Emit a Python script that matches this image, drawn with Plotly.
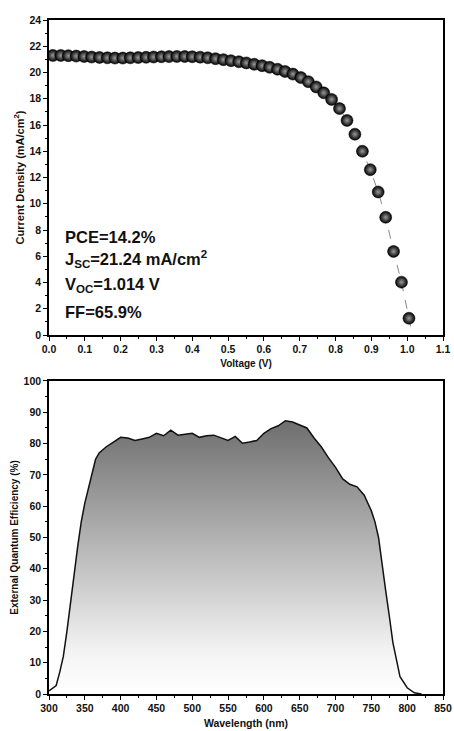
import plotly.graph_objects as go

# J-V data
voltage = [0.011, 0.033, 0.054, 0.076, 0.098, 0.119, 0.141, 0.163, 0.184, 0.206,
           0.227, 0.249, 0.271, 0.292, 0.314, 0.335, 0.357, 0.379, 0.400, 0.422,
           0.443, 0.465, 0.487, 0.508, 0.530, 0.551, 0.573, 0.595, 0.616, 0.638,
           0.659, 0.681, 0.703, 0.724, 0.746, 0.767, 0.789, 0.811, 0.832, 0.854,
           0.875, 0.897, 0.919, 0.940, 0.962, 0.984, 1.005]
current = [21.30, 21.30, 21.28, 21.25, 21.22, 21.18, 21.15, 21.12, 21.10, 21.10,
           21.12, 21.14, 21.16, 21.18, 21.20, 21.21, 21.22, 21.22, 21.20, 21.17,
           21.12, 21.05, 20.98, 20.90, 20.82, 20.73, 20.63, 20.52, 20.40, 20.25,
           20.08, 19.88, 19.62, 19.30, 18.90, 18.45, 17.95, 17.25, 16.35, 15.30,
           14.00, 12.60, 10.90, 8.97, 6.37, 4.03, 1.28]
voc = 1.014

# EQE data
wavelength = [300, 310, 315, 320, 325, 330, 335, 340, 345, 350, 355, 360, 365, 370,
              380, 390, 400, 410, 420, 430, 440, 450, 460, 470, 480, 490, 500,
              510, 520, 530, 540, 550, 560, 570, 580, 590, 600, 610, 620, 630,
              640, 650, 660, 670, 680, 690, 700, 710, 720, 730, 740, 750, 755,
              760, 765, 770, 775, 780, 790, 800, 810, 820]
eqe = [1.0, 2.7, 7.0, 12.0, 20.0, 30.0, 38.0, 47.0, 55.0, 61.0, 66.0, 70.0, 75.0, 77.0,
       79.0, 80.5, 82.0, 81.8, 81.0, 81.5, 82.0, 83.3, 82.5, 84.3, 82.7, 83.0, 83.3,
       82.0, 82.5, 82.7, 81.8, 81.0, 82.3, 80.1, 80.5, 81.0, 83.3, 84.8, 85.7, 87.3,
       86.9, 86.0, 85.0, 81.8, 79.0, 75.5, 72.4, 68.7, 67.0, 66.2, 63.5, 58.5, 55.0,
       50.0, 41.0, 33.0, 25.0, 16.5, 5.5, 2.0, 0.4, 0.0]

FONT = "Liberation Sans, Arial, sans-serif"

fig = go.Figure()

# fit line through JV points
fig.add_trace(go.Scatter(
    x=voltage + [voc], y=current + [0],
    mode="lines", line=dict(color="#888888", width=1, dash="dash"),
    xaxis="x", yaxis="y", showlegend=False, hoverinfo="skip"))

fig.add_trace(go.Scatter(
    x=voltage, y=current, mode="markers",
    marker=dict(size=12, color="#000000",
                gradient=dict(type="radial", color="#9a9a9a"),
                line=dict(width=0.5, color="#000000")),
    xaxis="x", yaxis="y", showlegend=False))

fig.add_trace(go.Scatter(
    x=wavelength, y=eqe, mode="lines",
    line=dict(color="#111111", width=1.5),
    fill="tozeroy",
    fillgradient=dict(type="vertical",
                      colorscale=[[0, "#ffffff"], [0.15, "#f4f4f4"], [1, "#6e6e6e"]]),
    xaxis="x2", yaxis="y2", showlegend=False))

axis_common = dict(
    showline=True, linecolor="black", linewidth=1.5, mirror=True,
    ticks="outside", ticklen=4, tickwidth=1, tickcolor="black",
    showgrid=False, zeroline=False, automargin=False,
    tickfont=dict(family=FONT, size=10.5, color="#111111", weight="bold"),
)
minor_common = dict(ticks="outside", ticklen=2, tickcolor="black")

fig.update_layout(
    width=454, height=731,
    margin=dict(l=49, r=11, t=20, b=37),
    plot_bgcolor="white", paper_bgcolor="white",
    xaxis=dict(domain=[0, 1], range=[0, 1.1], dtick=0.1, tickformat=".1f",
               minor=dict(dtick=0.05, **minor_common), anchor="y",
               title=dict(text="Voltage (V)", standoff=6,
                          font=dict(family=FONT, size=10, color="#111111", weight="bold")),
               **axis_common),
    yaxis=dict(domain=[0.5326, 1], range=[0, 24], dtick=2,
               minor=dict(dtick=1, **minor_common), anchor="x",
               title=dict(text="Current Density (mA/cm<sup>2</sup>)", standoff=3,
                          font=dict(family=FONT, size=11, color="#111111", weight="bold")),
               **axis_common),
    xaxis2=dict(domain=[0, 1], range=[300, 850], dtick=50,
                minor=dict(dtick=25, **minor_common), anchor="y2",
                title=dict(text="Wavelength (nm)", standoff=6,
                           font=dict(family=FONT, size=10.5, color="#111111", weight="bold")),
                **axis_common),
    yaxis2=dict(domain=[0, 0.4644], range=[0, 100], dtick=10,
                minor=dict(dtick=5, **minor_common), anchor="x2",
                title=dict(text="External Quantum Efficiency (%)", standoff=3,
                           font=dict(family=FONT, size=10, color="#111111", weight="bold")),
                **axis_common),
)

labels = ["PCE=14.2%",
          "J<sub>SC</sub>=21.24 mA/cm<sup>2</sup>",
          "V<sub>OC</sub>=1.014 V",
          "FF=65.9%"]
ys = [7.5, 5.8, 3.8, 1.75]
for txt, yv in zip(labels, ys):
    fig.add_annotation(x=0.04, y=yv, xref="x", yref="y", text=txt,
                       showarrow=False, xanchor="left", yanchor="middle",
                       font=dict(family=FONT, size=16.5, color="#111111", weight="bold"))

fig.write_html("out.html",
               config={"displayModeBar": False},
               post_script="document.body.style.margin='0';document.body.style.overflow='hidden';")
